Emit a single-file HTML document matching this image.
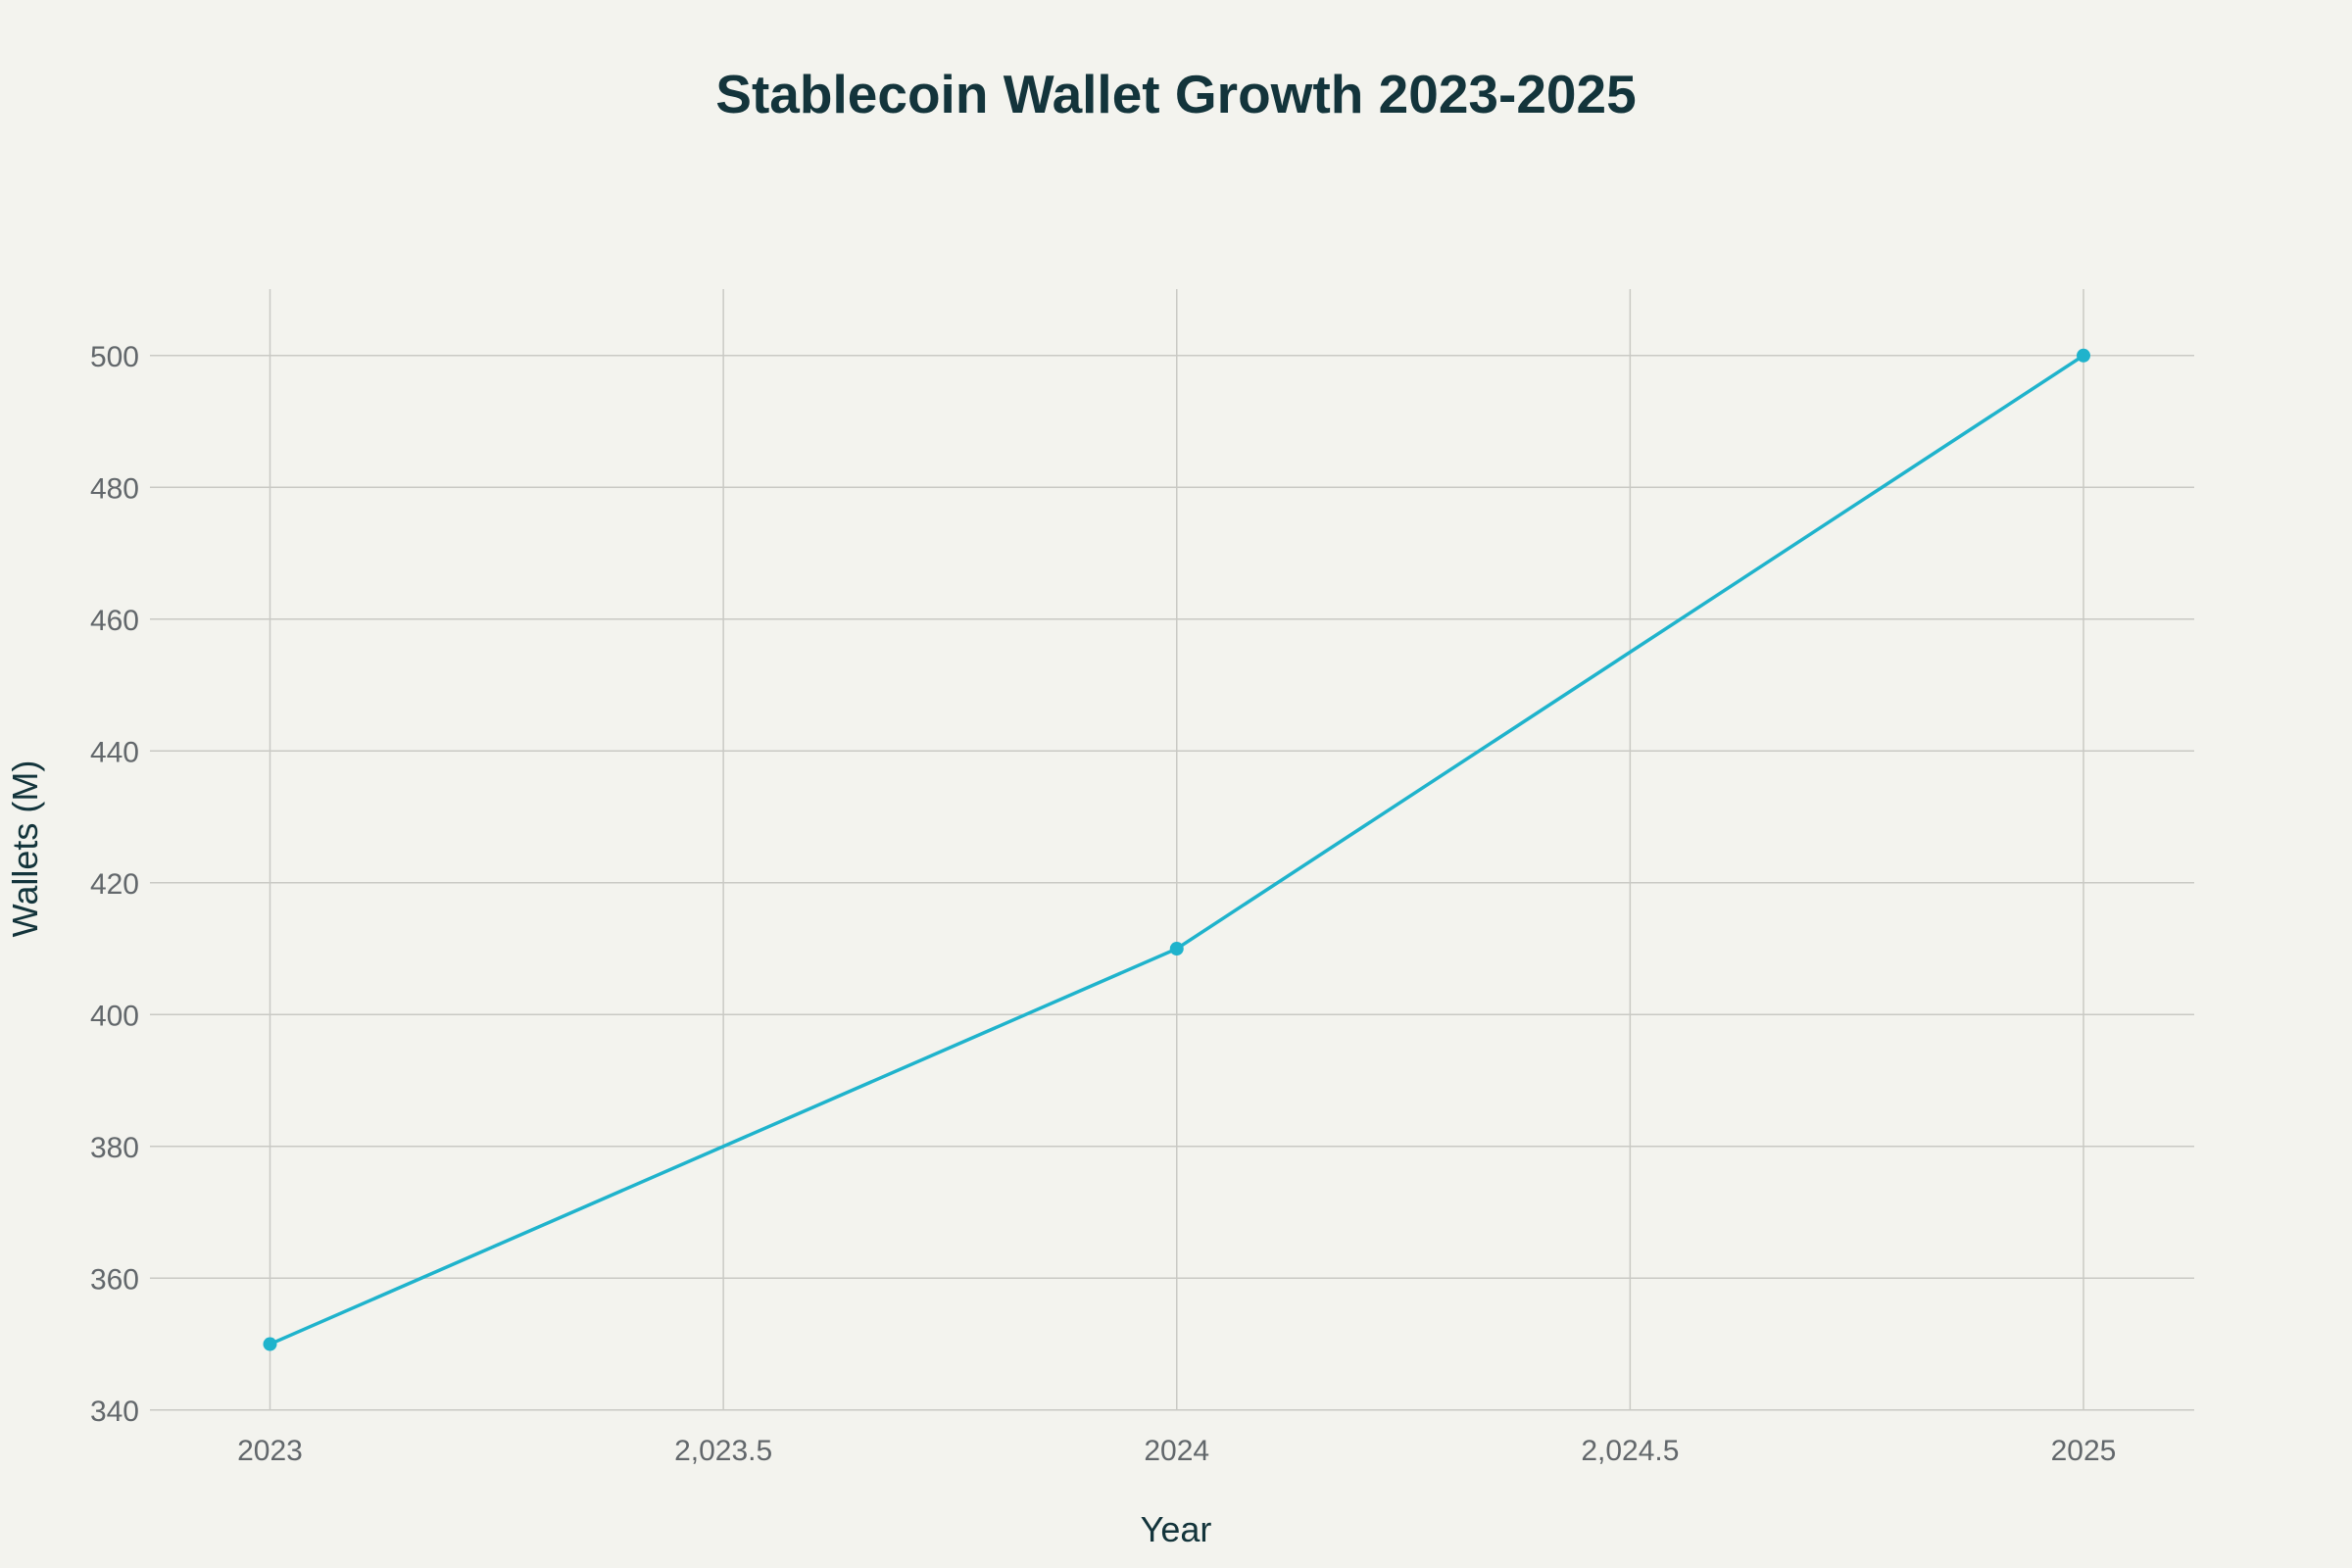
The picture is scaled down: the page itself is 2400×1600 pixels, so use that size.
<!DOCTYPE html>
<html><head><meta charset="utf-8"><style>
html,body{margin:0;padding:0;background:#f3f3ee;}
svg{display:block;font-family:"Liberation Sans",sans-serif;}
</style></head><body>
<svg id="chart" width="2400" height="1600" viewBox="0 0 2400 1600">
<rect width="2400" height="1600" fill="#f3f3ee"/>
<text x="1200" y="115" text-anchor="middle" font-size="55" font-weight="bold" fill="#13343b">Stablecoin Wallet Growth 2023-2025</text>
<g id="grid"></g><g id="series"></g><g id="ticks"></g>
<text x="1200" y="1573" text-anchor="middle" font-size="36" fill="#13343b">Year</text>
<text transform="translate(38,866) rotate(-90)" text-anchor="middle" font-size="36" fill="#13343b">Wallets (M)</text>
</svg>
<script>
const years=[2023,2024,2025];
const wallets=[350,410,500];
const xTicks=[2023,2023.5,2024,2024.5,2025];
const xTickLabels=["2023","2,023.5","2024","2,024.5","2025"];
const yTicks=[340,360,380,400,420,440,460,480,500];
const NS="http://www.w3.org/2000/svg";
const L=153,R=2239,T=295,B=1439;
function xs(v){return 275.5+(v-2023)*(2126-275.5)/2;}
function ys(v){return 1438.8-(v-340)*(1438.8-362.8)/160;}
function mk(tag,attrs,parent){const e=document.createElementNS(NS,tag);for(const k in attrs)e.setAttribute(k,attrs[k]);document.getElementById(parent).appendChild(e);return e;}
xTicks.forEach((t,i)=>{
 const g=mk('line',{x1:xs(t),x2:xs(t),y1:T,y2:B,stroke:'#c9c9c4','stroke-width':1.5},'grid');
 
 
 const tx=mk('text',{x:xs(t),y:1490,'text-anchor':'middle','font-size':30,fill:'#62676b'},'ticks');
 tx.textContent=xTickLabels[i];
 
 
});
yTicks.forEach(t=>{
 const g=mk('line',{x1:L,x2:R,y1:ys(t),y2:ys(t),stroke:'#c9c9c4','stroke-width':1.5},'grid');
 
 
 const tx=mk('text',{x:142,y:ys(t)+11,'text-anchor':'end','font-size':30,fill:'#62676b'},'ticks');
 tx.textContent=t;
 
 
});
const pts=years.map((y,i)=>xs(y)+','+ys(wallets[i])).join(' ');
const pl=mk('polyline',{points:pts,fill:'none',stroke:'#1fb3cc','stroke-width':3.5},'series');


years.forEach((y,i)=>{
 const c=mk('circle',{cx:xs(y),cy:ys(wallets[i]),r:7,fill:'#1fb3cc'},'series');
 
 
});
</script>
</body></html>
